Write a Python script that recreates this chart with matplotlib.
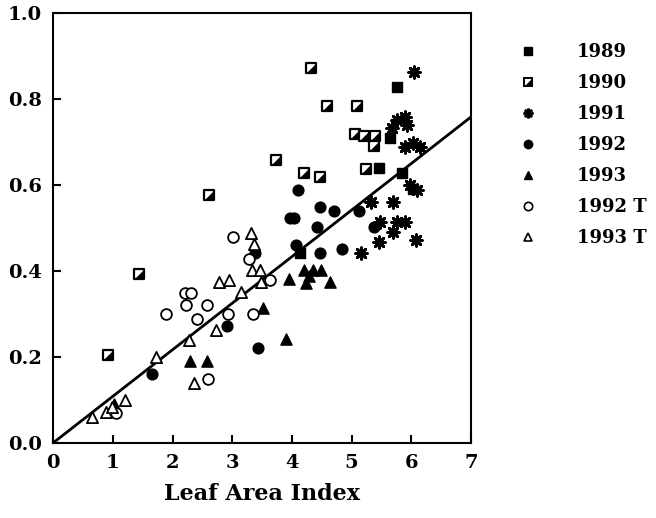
import numpy as np
import matplotlib
matplotlib.use('Agg')
import matplotlib.pyplot as plt

# data (LAI, y)
x1989 = [5.76, 5.64, 5.46, 5.85, 6.02, 4.14]
y1989 = [0.828, 0.709, 0.64, 0.628, 0.59, 0.441]

x1990 = [4.32, 4.59, 5.09, 5.06, 5.21, 5.39, 5.37, 3.73, 4.21, 4.47, 5.24, 1.43, 0.92, 2.61]
y1990 = [0.872, 0.784, 0.784, 0.719, 0.714, 0.714, 0.69, 0.658, 0.628, 0.619, 0.637, 0.393, 0.205, 0.577]

x1991 = [6.05, 5.76, 5.9, 5.93, 5.68, 5.9, 6.03, 6.15, 5.98, 6.1, 5.33, 5.7, 5.48, 5.76, 5.9, 5.7, 5.46, 6.08, 5.16]
y1991 = [0.863, 0.751, 0.758, 0.74, 0.733, 0.689, 0.698, 0.689, 0.6, 0.588, 0.56, 0.56, 0.514, 0.514, 0.514, 0.49, 0.467, 0.472, 0.441]

x1992 = [4.1, 4.47, 4.71, 3.97, 4.03, 4.42, 5.13, 5.38, 4.07, 4.47, 4.84, 3.38, 3.44, 2.92, 1.66]
y1992 = [0.588, 0.549, 0.54, 0.523, 0.523, 0.502, 0.54, 0.503, 0.46, 0.441, 0.451, 0.441, 0.221, 0.272, 0.16]

x1993 = [3.95, 4.2, 4.35, 4.49, 4.24, 4.29, 4.64, 3.52, 3.9, 2.29, 2.58, 1.02]
y1993 = [0.381, 0.402, 0.402, 0.402, 0.372, 0.388, 0.374, 0.313, 0.241, 0.19, 0.19, 0.091]

x1992T = [3.01, 3.28, 2.21, 2.31, 2.23, 2.58, 1.89, 2.41, 2.93, 3.35, 2.6, 1.06, 3.63]
y1992T = [0.479, 0.428, 0.349, 0.349, 0.321, 0.321, 0.3, 0.288, 0.3, 0.3, 0.149, 0.07, 0.379]

x1993T = [3.32, 3.37, 3.33, 3.47, 2.78, 2.95, 3.15, 3.48, 2.73, 2.28, 1.73, 2.36, 1.21, 0.89, 0.65, 0.99]
y1993T = [0.488, 0.463, 0.402, 0.402, 0.374, 0.379, 0.351, 0.374, 0.263, 0.24, 0.2, 0.139, 0.1, 0.072, 0.06, 0.084]

slope = 0.1083

plt.rcParams['font.family'] = 'DejaVu Serif'
plt.rcParams['font.weight'] = 'bold'

fig = plt.figure(figsize=(6.56, 5.18), dpi=100)
ax = fig.add_axes([0.081, 0.145, 0.637, 0.830])

# half-filled square: open square + filled lower-right triangle
tri = [(1, -1), (1, 1), (-1, -1), (1, -1)]

ax.scatter(x1989, y1989, marker='s', s=55, c='k', zorder=3)
ax.scatter(x1990, y1990, marker='s', s=60, facecolors='white', edgecolors='k', linewidths=1.6, zorder=3)
ax.scatter(x1990, y1990, marker=tri, s=30, c='k', linewidths=0, zorder=4)
ax.scatter(x1991, y1991, marker=(8, 2, 0), s=70, c='k', linewidths=2.0, zorder=3)
ax.scatter(x1992, y1992, marker='o', s=60, c='k', zorder=3)
ax.scatter(x1993, y1993, marker='^', s=65, c='k', zorder=3)
ax.scatter(x1992T, y1992T, marker='o', s=60, facecolors='white', edgecolors='k', linewidths=1.3, zorder=3)
ax.scatter(x1993T, y1993T, marker='^', s=65, facecolors='white', edgecolors='k', linewidths=1.3, zorder=3)

xl = np.array([0, 7])
ax.plot(xl, slope * xl, color='k', lw=2, zorder=2)

ax.set_xlim(0, 7)
ax.set_ylim(0, 1.0)
ax.set_xticks(range(8))
ax.set_yticks(np.arange(0, 1.01, 0.2))
ax.set_yticklabels(['0.0', '0.2', '0.4', '0.6', '0.8', '1.0'])
ax.tick_params(direction='in', length=6, width=1.5, labelsize=14, pad=8)
for s in ax.spines.values():
    s.set_linewidth(1.5)
ax.set_xlabel('Leaf Area Index', fontsize=16, fontweight='bold', labelpad=8)

# legend
labels = ['1989', '1990', '1991', '1992', '1993', '1992 T', '1993 T']
handles = [
    plt.Line2D([], [], ls='', marker='s', ms=6, color='k'),
    (plt.Line2D([], [], ls='', marker='s', ms=6, mfc='white', mec='k', mew=1.4),
     plt.Line2D([], [], ls='', marker=tri, ms=4, color='k', mew=0)),
    plt.Line2D([], [], ls='', marker=(8, 2, 0), ms=7, color='k', mew=1.8),
    plt.Line2D([], [], ls='', marker='o', ms=6, color='k'),
    plt.Line2D([], [], ls='', marker='^', ms=6, color='k'),
    plt.Line2D([], [], ls='', marker='o', ms=6, mfc='white', mec='k', mew=1.2),
    plt.Line2D([], [], ls='', marker='^', ms=6, mfc='white', mec='k', mew=1.2),
]
leg = fig.legend(handles, labels, loc='upper left', bbox_to_anchor=(0.791, 0.917),
                 frameon=False, labelspacing=0.72, handlelength=1.0, handletextpad=2.2,
                 borderpad=0, borderaxespad=0,
                 prop={'family': 'DejaVu Serif', 'weight': 'bold', 'size': 13})

fig.savefig('out.png', dpi=100)
